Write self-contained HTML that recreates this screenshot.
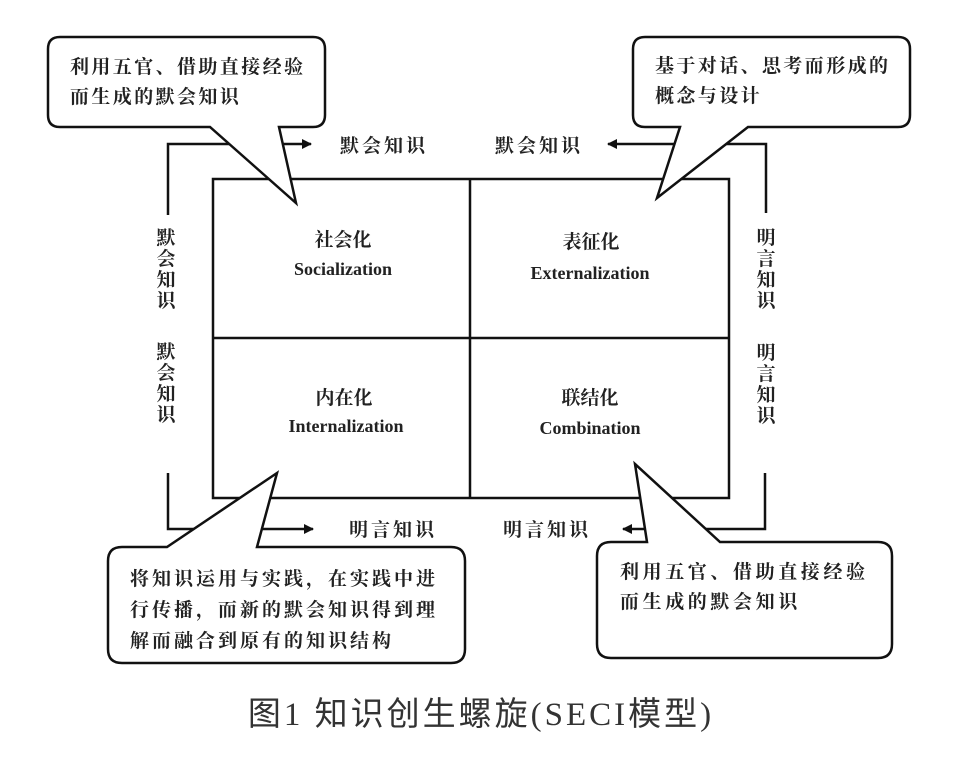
<!DOCTYPE html>
<html><head><meta charset="utf-8"><style>
body{margin:0;background:#fff}
svg text{font-family:"Liberation Serif","Noto Serif CJK SC",serif;fill:#222}
.c{font-size:19px;font-weight:700}
.e{font-size:18px;font-weight:bold;font-family:"Liberation Serif",serif}
</style></head><body>
<svg width="962" height="753" viewBox="0 0 962 753" xmlns="http://www.w3.org/2000/svg">
<defs><marker id="a" markerWidth="10" markerHeight="10" refX="9" refY="5" orient="auto" markerUnits="userSpaceOnUse"><path d="M0,0 L10,5 L0,10 z" fill="#111"/></marker></defs>
<g stroke="#111" stroke-width="2.5" fill="none">
<rect x="213" y="179" width="516" height="319"/>
<line x1="470" y1="179" x2="470" y2="498"/>
<line x1="213" y1="338" x2="729" y2="338"/>
<polyline points="168,215 168,144 311,144" marker-end="url(#a)"/>
<polyline points="766,213 766,144 608,144" marker-end="url(#a)"/>
<polyline points="168,473 168,529 313,529" marker-end="url(#a)"/>
<polyline points="765,473 765,529 623,529" marker-end="url(#a)"/>
</g>
<g stroke="#111" stroke-width="2.5" fill="#fff" stroke-linejoin="miter">
<path d="M60,37 H313 Q325,37 325,49 V115 Q325,127 313,127 H279 L296,203 L210,127 H60 Q48,127 48,115 V49 Q48,37 60,37 Z"/>
<path d="M645,37 H898 Q910,37 910,49 V115 Q910,127 898,127 H748 L657,198 L680,127 H645 Q633,127 633,115 V49 Q633,37 645,37 Z"/>
<path d="M122,547 H167 L277,473 L257,547 H451 Q465,547 465,561 V649 Q465,663 451,663 H122 Q108,663 108,649 V561 Q108,547 122,547 Z"/>
<path d="M611,542 H647 L635,464 L720,542 H878 Q892,542 892,556 V644 Q892,658 878,658 H611 Q597,658 597,644 V556 Q597,542 611,542 Z"/>
</g>
<text class="c" x="70" y="73" letter-spacing="2.4">利用五官、借助直接经验</text>
<text class="c" x="70" y="103" letter-spacing="2.4">而生成的默会知识</text>
<text class="c" x="655" y="72" letter-spacing="2.4">基于对话、思考而形成的</text>
<text class="c" x="655" y="102" letter-spacing="2.4">概念与设计</text>
<text class="c" x="130" y="585" letter-spacing="3">将知识运用与实践，在实践中进</text>
<text class="c" x="130" y="616" letter-spacing="3">行传播，而新的默会知识得到理</text>
<text class="c" x="130" y="647" letter-spacing="3">解而融合到原有的知识结构</text>
<text class="c" x="620" y="578" letter-spacing="3.6">利用五官、借助直接经验</text>
<text class="c" x="620" y="608" letter-spacing="3.6">而生成的默会知识</text>
<text class="c" x="340" y="152" letter-spacing="3">默会知识</text>
<text class="c" x="495" y="152" letter-spacing="3">默会知识</text>
<text class="c" x="349" y="536" letter-spacing="3">明言知识</text>
<text class="c" x="503" y="536" letter-spacing="3">明言知识</text>
<g class="c" text-anchor="middle">
<text x="166" y="244">默</text><text x="166" y="265">会</text><text x="166" y="286">知</text><text x="166" y="307">识</text>
<text x="166" y="358">默</text><text x="166" y="379">会</text><text x="166" y="400">知</text><text x="166" y="421">识</text>
<text x="766" y="244">明</text><text x="766" y="265">言</text><text x="766" y="286">知</text><text x="766" y="307">识</text>
<text x="766" y="359">明</text><text x="766" y="380">言</text><text x="766" y="401">知</text><text x="766" y="422">识</text>
<text x="343" y="246">社会化</text>
<text x="591" y="248">表征化</text>
<text x="344" y="404">内在化</text>
<text x="590" y="404">联结化</text>
</g>
<g class="e" text-anchor="middle">
<text x="343" y="275">Socialization</text>
<text x="590" y="279">Externalization</text>
<text x="346" y="432">Internalization</text>
<text x="590" y="434">Combination</text>
</g>
<text x="481" y="725" text-anchor="middle" letter-spacing="3" style="font-family:'Liberation Serif','Noto Sans CJK SC',sans-serif;font-size:33px;font-weight:400;fill:#333">图1 知识创生螺旋(SECI模型)</text>
</svg>
</body></html>
